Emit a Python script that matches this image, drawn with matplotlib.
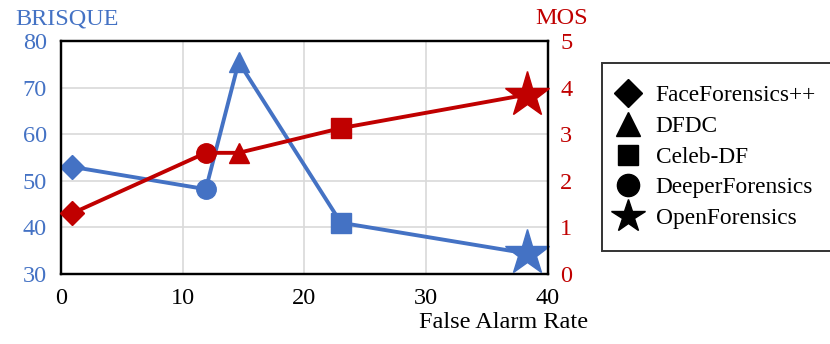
import matplotlib
matplotlib.use("Agg")
import matplotlib.pyplot as plt
from matplotlib.lines import Line2D

plt.rcParams['font.family'] = ['Liberation Serif', 'DejaVu Serif']

datasets = ["FaceForensics++", "DeeperForensics", "DFDC", "Celeb-DF", "OpenForensics"]
markers = ["D", "o", "^", "s", "*"]
false_alarm = [0.9, 11.9, 14.6, 23.0, 38.3]
brisque = [53.0, 48.2, 75.5, 41.0, 34.4]
mos = [1.30, 2.60, 2.60, 3.13, 3.85]

legend_order = ["FaceForensics++", "DFDC", "Celeb-DF", "DeeperForensics", "OpenForensics"]

blue = "#4472C4"
red = "#C00000"
msizes = {"D": 12, "o": 14, "^": 15, "s": 14, "*": 34}
leg_sizes = {"D": 14, "o": 16, "^": 17, "s": 15, "*": 25}

fig = plt.figure(figsize=(8.3, 3.44), dpi=100)
ax = fig.add_axes([0.0735, 0.2035, 0.5865, 0.6773])
ax2 = ax.twinx()

ax.plot(false_alarm, brisque, color=blue, lw=2.8, zorder=2)
for x, y, m in zip(false_alarm, brisque, markers):
    ax.plot(x, y, marker=m, color=blue, ms=msizes[m], mec=blue, clip_on=False, zorder=3)
ax2.plot(false_alarm, mos, color=red, lw=2.8, zorder=2)
for x, y, m in zip(false_alarm, mos, markers):
    ax2.plot(x, y, marker=m, color=red, ms=msizes[m], mec=red, clip_on=False, zorder=3)

ax.set_xlim(0, 40)
ax.set_ylim(30, 80)
ax2.set_ylim(0, 5)
ax.set_xticks([0, 10, 20, 30, 40])
ax.set_yticks([30, 40, 50, 60, 70, 80])
ax2.set_yticks([0, 1, 2, 3, 4, 5])
ax.grid(True, color="#D9D9D9", lw=1.2)
ax.set_axisbelow(True)

fs = 17.5
ax.tick_params(axis='y', length=0, labelsize=fs, pad=10, colors=blue)
ax.tick_params(axis='x', length=0, labelsize=fs, pad=10, colors='black')
ax2.tick_params(axis='y', length=0, labelsize=fs, colors=red, pad=9)
for a in (ax, ax2):
    for s in a.spines.values():
        s.set_linewidth(1.6)
        s.set_color('black')

fig.text(0.018, 0.945, "BRISQUE", color=blue, fontsize=fs, ha='left', va='center')
fig.text(0.708, 0.945, "MOS", color=red, fontsize=fs, ha='right', va='center')
fig.text(0.708, 0.062, "False Alarm Rate", color='black', fontsize=fs, ha='right', va='center')

handles = [Line2D([], [], ls='none', marker=markers[datasets.index(n)], color='black',
                  ms=leg_sizes[markers[datasets.index(n)]])
           for n in legend_order]
leg = fig.legend(handles, legend_order, loc='upper left', bbox_to_anchor=(0.7255, 0.817),
                 frameon=True, fancybox=False, edgecolor='black', fontsize=16.8,
                 handletextpad=1.0, labelspacing=0.4, borderpad=0.95, handlelength=0.35,
                 borderaxespad=0)
leg.get_frame().set_linewidth(1.4)

fig.savefig("out.png", dpi=100)
